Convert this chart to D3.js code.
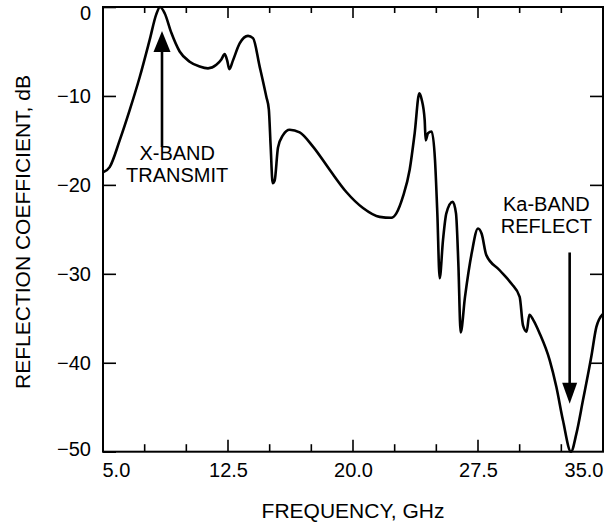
<!DOCTYPE html>
<html>
<head>
<meta charset="utf-8">
<script src="https://cdn.jsdelivr.net/npm/d3@7"></script>
<style>
	body { margin: 0; background: #fff; }
	svg { display: block; font-family: 'Liberation Sans', Arial, sans-serif; }
	.frame { fill: none; stroke: #000; stroke-width: 2; }
	.axis path { display: none; }
	.axis line { stroke: #000; stroke-width: 1.6; }
	.axis text { font-size: 20px; fill: #000; font-family: 'Liberation Sans', Arial, sans-serif; }
	.curve { fill: none; stroke: #000; stroke-width: 2.6; stroke-linejoin: round; }
	.title, .note { font-size: 21px; fill: #000; }
	.note { font-size: 20px; }
</style>
</head>
<body>
<div id="chart"></div>
<script>
// frequency in GHz, reflection coefficient in dB
const freq = [
	5.0, 5.4, 6.0, 6.6, 7.2, 7.8, 8.2, 8.42, 8.7, 9.1,
	9.6, 10.2, 10.8, 11.3, 11.8, 12.1, 12.3, 12.45, 12.58, 12.8,
	13.2, 13.7, 14.0, 14.4, 14.8, 14.95, 15.06, 15.18, 15.3, 15.5,
	15.8, 16.2, 16.8, 17.6, 18.6, 19.6, 20.6, 21.6, 22.3, 22.6,
	23.0, 23.4, 23.7, 23.98, 24.12, 24.3, 24.36, 24.5, 24.72, 24.92,
	25.06, 25.2, 25.4, 25.6, 25.98, 26.18, 26.32, 26.46, 26.72, 27.12,
	27.5, 27.72, 28.0, 28.8, 29.5, 30.0, 30.2, 30.42, 30.58, 30.82,
	31.2, 31.8, 32.2, 32.6, 33.08, 33.4, 33.8, 34.3, 34.6, 35.0
]
const reflection = [
	-18.6, -18.0, -15.0, -11.6, -7.9, -3.7, -0.8, 0.0, -0.7, -2.9,
	-5.0, -6.15, -6.7, -6.9, -6.5, -5.9, -5.3, -6.0, -7.0, -6.0,
	-4.1, -3.25, -3.5, -6.7, -10.1, -11.5, -15.7, -19.8, -19.5, -15.8,
	-14.4, -13.8, -14.1, -15.7, -18.3, -20.8, -22.6, -23.6, -23.7, -23.2,
	-21.3, -18.3, -14.2, -9.7, -10.4, -12.7, -15.0, -14.2, -14.0, -17.2,
	-23.2, -30.5, -26.2, -23.2, -21.9, -23.2, -28.8, -36.6, -32.6, -27.7,
	-24.9, -25.5, -27.9, -29.6, -31.1, -32.6, -35.8, -36.5, -34.6, -35.2,
	-36.7, -39.7, -42.7, -46.5, -50.0, -48.0, -44.2, -39.3, -36.0, -34.5
]

const xTicks = [5, 7.5, 10, 12.5, 15, 17.5, 20, 22.5, 25, 27.5, 30, 32.5, 35]
const xLabels = [5, 12.5, 20, 27.5, 35]
const yTicks = [0, -10, -20, -30, -40, -50]

// annotations: label lines and arrow (tail, tip) in data units
const notes = [
	{ lines: ['X-BAND', 'TRANSMIT'], f: 9.45, db: -17.2, arrowF: 8.54, tail: -15.75, tip: -2.7 },
	{ lines: ['Ka-BAND', 'REFLECT'], f: 31.6, db: -22.9, arrowF: 33.0, tail: -27.6, tip: -44.6 }
]

class ReflectionChart {
	constructor(parent) {
		this.margin = { top: 7, left: 103 }
		this.width = 500
		this.height = 444.7

		this.svg = parent.append('svg').attr('width', 607).attr('height', 527)
		this.g = this.svg.append('g')
			.attr('transform', `translate(${this.margin.left},${this.margin.top})`)

		this.x = d3.scaleLinear().domain([5, 35]).range([0, this.width])
		this.y = d3.scaleLinear().domain([-50, 0]).range([this.height, 0])

		this.axes()
		this.curve()
		this.annotate()
		this.titles()
	}
	axes() {
		let major = d => xLabels.includes(d)
		let inner = xTicks.filter(d => d > 5 && d < 35)

		let bottom = this.g.append('g').attr('class', 'axis')
			.attr('transform', `translate(0,${this.height})`)
			.call(d3.axisBottom(this.x).tickValues(xTicks).tickSize(0).tickPadding(11)
				.tickFormat(d => major(d) ? d3.format('.1f')(d) : ''))
		bottom.selectAll('.tick text')
			.attr('text-anchor', d => d == 5 ? 'start' : d == 35 ? 'end' : 'middle')
			.attr('dx', d => d == 5 ? -1 : 0)

		// inward ticks on bottom and top edges
		let tickGroup = this.g.append('g').attr('class', 'axis')
		tickGroup.selectAll('.xb').data(inner).enter().append('line')
			.attr('x1', d => this.x(d)).attr('x2', d => this.x(d))
			.attr('y1', this.height).attr('y2', d => this.height - (major(d) ? 12 : 7.5))
		tickGroup.selectAll('.xt').data(inner).enter().append('line')
			.attr('x1', d => this.x(d)).attr('x2', d => this.x(d))
			.attr('y1', 0).attr('y2', d => major(d) ? 11 : 6)

		let left = this.g.append('g').attr('class', 'axis')
			.call(d3.axisLeft(this.y).tickValues(yTicks).tickSize(-13).tickPadding(12).tickFormat(d3.format('d')))
		left.selectAll('.tick text')
			.attr('dy', d => d == 0 ? '0.62em' : d == -50 ? '0.2em' : '0.34em')

		this.g.append('g').attr('class', 'axis')
			.attr('transform', `translate(${this.width},0)`)
			.call(d3.axisRight(this.y).tickValues(yTicks.slice(1, -1)).tickSize(-13).tickFormat(''))

		this.g.append('rect').attr('class', 'frame')
			.attr('width', this.width).attr('height', this.height)
	}
	curve() {
		let line = d3.line()
			.x(d => this.x(d[0]))
			.y(d => this.y(d[1]))
			.curve(d3.curveMonotoneX)
		this.g.append('path')
			.datum(d3.zip(freq, reflection))
			.attr('class', 'curve')
			.attr('d', line)
	}
	annotate() {
		let groups = this.g.selectAll('.note-group').data(notes).enter().append('g')

		groups.append('text').attr('class', 'note')
			.attr('text-anchor', 'middle')
			.attr('x', d => this.x(d.f))
			.attr('y', d => this.y(d.db))
			.selectAll('tspan').data(d => d.lines).enter().append('tspan')
			.attr('x', function () { return d3.select(this.parentNode).attr('x') })
			.attr('dy', (d, i) => i ? 22.5 : 0)
			.text(d => d)

		let head = 20
		groups.append('line')
			.attr('x1', d => this.x(d.arrowF)).attr('x2', d => this.x(d.arrowF))
			.attr('y1', d => this.y(d.tail))
			.attr('y2', d => this.y(d.tip) + (d.tip > d.tail ? head : -head))
			.style('stroke', '#000').style('stroke-width', 2.6)

		groups.append('path')
			.attr('d', d => {
				let cx = this.x(d.arrowF), ty = this.y(d.tip)
				let by = ty + (d.tip > d.tail ? head + 1 : -head - 1)
				let hw = d.tip > d.tail ? 8.5 : 7.5
				return `M${cx},${ty}L${cx - hw},${by}L${cx + hw},${by}Z`
			})
			.style('fill', '#000')
	}
	titles() {
		this.svg.append('text').attr('class', 'title')
			.attr('text-anchor', 'middle')
			.attr('x', this.margin.left + this.width / 2)
			.attr('y', 518)
			.text('FREQUENCY, GHz')

		this.svg.append('text').attr('class', 'title')
			.attr('text-anchor', 'middle')
			.attr('transform', 'translate(30,232) rotate(-90)')
			.text('REFLECTION COEFFICIENT, dB')
	}
}

new ReflectionChart(d3.select('#chart'))
</script>
</body>
</html>
